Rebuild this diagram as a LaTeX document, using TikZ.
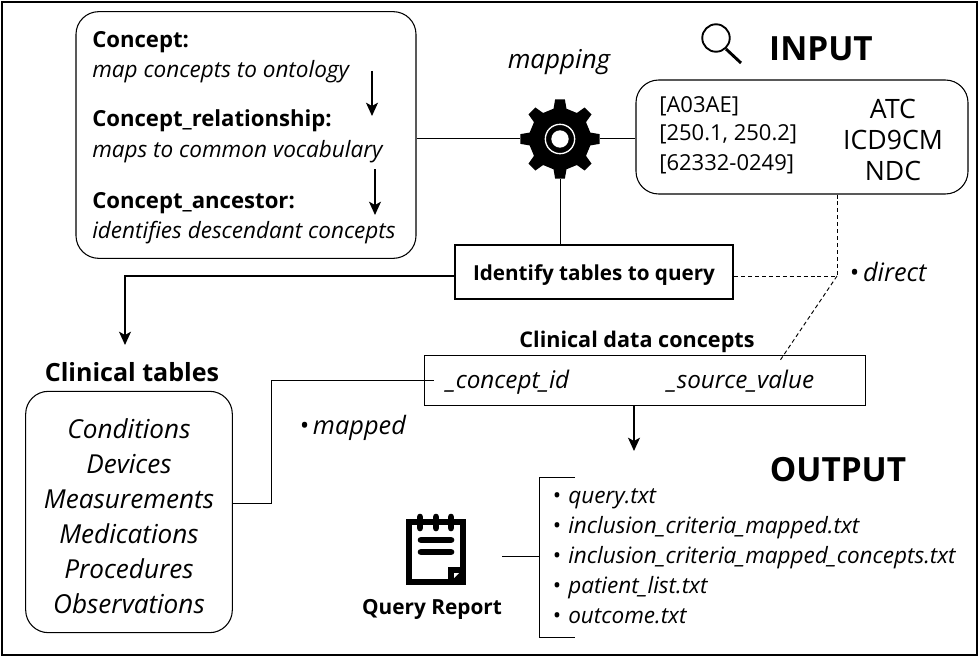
\documentclass[tikz,border=0pt]{standalone}
\usepackage{fontspec}
\setmainfont{Open Sans}
\usetikzlibrary{arrows.meta}
\tikzset{
  lbl/.style={inner sep=0pt, anchor=base west},
  bigit/.style={font=\fontsize{19.6}{26.25}\selectfont\itshape, align=center, inner sep=0pt},
  smallit/.style={lbl, font=\fontsize{16.9}{20}\selectfont\itshape},
  smallbf/.style={lbl, font=\fontsize{16.6}{20}\selectfont\bfseries},
  fileit/.style={lbl, font=\fontsize{16.9}{20}\selectfont\itshape},
  head/.style={font=\fontsize{25}{30}\selectfont\bfseries, inner sep=0pt},
  rbox/.style={draw, line width=0.8pt, rounded corners=17pt},
  conn/.style={line width=0.75pt},
  dashconn/.style={line width=0.7pt, dash pattern=on 3pt off 2.2pt},
  arr/.style={line width=1pt, -{Stealth[length=10pt,width=9pt,inset=2.5pt]}}
}
\newcommand{\bul}[1]{\makebox[12pt][l]{\textbullet}#1}
\begin{document}
\begin{tikzpicture}[x=0.75pt,y=-0.75pt]
    \useasboundingbox (0,0) rectangle (979,660);
    \draw[line width=1.2pt] (2,2) rectangle (977,655);
    % top left box
    \node[rbox, minimum width=255pt, minimum height=185pt] (CB) at (246,135) {};
    \node[smallbf] (C1) at (92,48) {Concept:};
    \node[smallit] (C1t) at (92,78) {map concepts to ontology};
    \node[smallbf] (C2) at (92,127) {Concept\_relationship:};
    \node[smallit] (C2t) at (92,157) {maps to common vocabulary};
    \node[smallbf] (C3) at (92,208) {Concept\_ancestor:};
    \node[smallit] (C3t) at (92,238) {identifies descendant concepts};
    \coordinate (A1s) at (372,71);
    \coordinate (A1e) at (372,116);
    \coordinate (A2s) at (375,169);
    \coordinate (A2e) at (375,215);
    \draw[arr] (A1s) -- (A1e);
    \draw[arr] (A2s) -- (A2e);
    % gear
    \coordinate (G) at (560,139);
    \fill[shift={(G)}] (-12:31)
      \foreach \a in {0,45,...,315} {
        -- (\a-12:31) -- (\a-7:40) -- (\a+7:40) -- (\a+12:31)
      } -- cycle;
    \node[circle, draw=white, line width=1pt, fill=black, minimum size=22pt, inner sep=0pt] (GO) at (G) {};
    \node[circle, fill=white, minimum size=13pt, inner sep=0pt] (GI) at (G) {};
    \node[circle, minimum size=60pt, inner sep=0pt] (GEAR) at (G) {};
    \node[font=\fontsize{19.5}{24}\selectfont\itshape, inner sep=0pt] (MAP) at (559,62) {mapping};
    % input
    \draw[line width=1.4pt] (716,38) circle[radius=10.3pt];
    \draw[line width=2.2pt] (726,49) -- (741,63);
    \node[head] (IN) at (821,49) {INPUT};
    \node[rbox, minimum width=249pt, minimum height=85.5pt] (IB) at (802,137) {};
    \node[lbl, font=\fontsize{16.5}{22}\selectfont] (L1) at (659,113) {[A03AE]};
    \node[lbl, font=\fontsize{16.5}{22}\selectfont] (L2) at (659,141) {[250.1, 250.2]};
    \node[lbl, font=\fontsize{16.5}{22}\selectfont] (L3) at (659,171) {[62332-0249]};
    \node[font=\fontsize{20}{23}\selectfont, align=center, inner sep=0pt] (VOC) at (893,140) {ATC\\ICD9CM\\NDC};
    \draw[conn] (CB.east |- G) -- (GEAR.west);
    \draw[conn] (GEAR.east) -- (IB.west |- G);
    % identify box
    \node[draw, line width=1.4pt, minimum width=209pt, minimum height=41pt, inner sep=0pt, font=\fontsize{15.5}{20}\selectfont\bfseries] (ID) at (594,272) {\raisebox{-6pt}[0pt][0pt]{Identify tables to query}};
    \draw[conn] (GEAR.south) -- (G |- ID.north);
    \coordinate (J) at (837,276);
    \draw[dashconn] (IB.south -| J) -- (J);
    \draw[dashconn] (ID.east |- J) -- (J);
    \coordinate (H) at (779,362);
    \draw[dashconn] (J) -- (H);
    \node[lbl, font=\fontsize{19}{24}\selectfont\itshape] (DIR) at (849,281) {\textbullet\,direct};
    % clinical tables
    \coordinate (T) at (125,276);
    \draw[arr] (ID.west |- T) -- (T) -- (125,345);
    \node[font=\fontsize{18.8}{24}\selectfont\bfseries, inner sep=0pt] (CT) at (132,372) {Clinical tables};
    \node[rbox, minimum width=155pt, minimum height=181pt, inner sep=0pt] (TB) at (129,512) {};
    \node[bigit] (TT) at (129,516.5) {Conditions\\Devices\\Measurements\\Medications\\Procedures\\Observations};
    \node[lbl, font=\fontsize{19}{24}\selectfont\itshape] (MP) at (299,434) {\textbullet\,mapped};
    % data concepts
    \node[font=\fontsize{16.2}{20}\selectfont\bfseries, inner sep=0pt] (DC) at (637,342) {Clinical data concepts};
    \node[draw, line width=0.6pt, minimum width=331pt, minimum height=37.5pt, inner sep=0pt] (DB) at (645,380) {};
    \node[lbl, font=\fontsize{18.2}{20}\selectfont\itshape] (CID) at (446,388) {\_concept\_id};
    \node[lbl, font=\fontsize{18.2}{20}\selectfont\itshape] (SRC) at (667,388) {\_source\_value};
    \coordinate (CL) at (434,380);
    \draw[conn] (TB.east |- 0,503) -- (271,503) -- (271,380) -- (CL);
    \draw[arr] (DB.south -| 634,0) -- (634,451);
    % output
    \node[head] (OUT) at (838,470) {OUTPUT};
    \coordinate (BT) at (575,477);
    \coordinate (BB) at (575,637);
    \draw[conn] (BT) -- (539,477) -- (539,637) -- (BB);
    \node[fileit] (F1) at (552,503) {\bul{query.txt}};
    \node[fileit] (F2) at (552,533) {\bul{inclusion\_criteria\_mapped.txt}};
    \node[fileit] (F3) at (552,563) {\bul{inclusion\_criteria\_mapped\_concepts.txt}};
    \node[fileit] (F4) at (552,593) {\bul{patient\_list.txt}};
    \node[fileit] (F5) at (552,623) {\bul{outcome.txt}};
    % query report icon
    \draw[line width=4pt, line join=miter] (409,522) rectangle (463,582);
    \fill (448,567) rectangle (466,585);
    \fill[white] (454,578) -- (459,573) -- (454,573) -- cycle;
    \foreach \x in {420,436,451} \draw[line width=5pt, line cap=round] (\x,517) -- (\x,528);
    \draw[line width=5pt, line cap=round] (421,540) -- (451,540);
    \draw[line width=5pt, line cap=round] (421,552) -- (451,552);
    \node[font=\fontsize{15.6}{18}\selectfont\bfseries, inner sep=0pt] (QR) at (432,609) {Query Report};
    \coordinate (QL) at (502,556);
    \draw[conn] (QL) -- (QL -| 539,0);
\end{tikzpicture}
\end{document}
